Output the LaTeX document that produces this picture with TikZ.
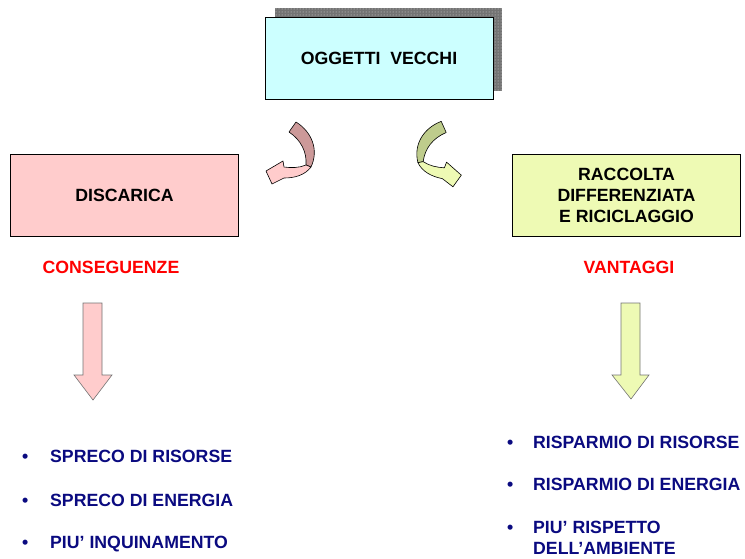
\documentclass[tikz,border=0pt]{standalone}
\usepackage{fontspec}
\setmainfont{Liberation Sans}
\usetikzlibrary{patterns}

\definecolor{celeste}{RGB}{204,255,255}
\definecolor{rosa}{RGB}{255,204,204}
\definecolor{rosascuro}{RGB}{204,153,153}
\definecolor{verdino}{RGB}{238,250,180}
\definecolor{verdescuro}{RGB}{190,204,140}
\definecolor{blu}{RGB}{10,10,128}

\begin{document}
\begin{tikzpicture}[x=1pt, y=-1pt,
  font=\fontsize{17.7}{21}\selectfont\bfseries,
  box/.style={draw, line width=0.8pt, align=center, minimum width=228pt, minimum height=82pt},
  titolo/.style={text=red},
  voce/.style={anchor=base west, inner sep=0pt, text=blu, align=left},
  freccia/.style={draw=black!55, line width=0.6pt},
  curva/.style={draw=black, line width=0.6pt, line join=round}]

  \useasboundingbox (0,0) rectangle (745,558);

  % ombra e riquadro in alto
  \fill[black!55] (275,8) rectangle (502,91);
  \fill[pattern=dots, pattern color=white!85!black] (275,8) rectangle (502,91);
  \node[box, fill=celeste] (vecchi) at (379,58.5) {OGGETTI~~VECCHI};

  \node[box, fill=rosa] (discarica) at (124.5,195.5) {DISCARICA};
  \node[box, fill=verdino] (raccolta) at (626.5,195.5) {RACCOLTA\\DIFFERENZIATA\\E RICICLAGGIO};

  \node[titolo] (conseguenze) at (111,267) {CONSEGUENZE};
  \node[titolo] (vantaggi) at (629,267) {VANTAGGI};

  % frecce curve
  \filldraw[curva, fill=rosascuro] (289,132) -- (296,122) .. controls (312,132) and (319,150) .. (311,167)
    -- (306,165) .. controls (307,152) and (301,140) .. cycle;
  \filldraw[curva, fill=rosa] (306,165) .. controls (299,168) and (291,168) .. (284,167) -- (283,161) -- (266,171)
    -- (272,184) -- (284,178) .. controls (295,178) and (305,175) .. (311,167) -- cycle;
  \begin{scope}[rotate around={-11:(444,128)}]
  \begin{scope}[xshift=736pt, xscale=-1]
    \filldraw[curva, fill=verdescuro] (289,132) -- (296,122) .. controls (312,132) and (319,150) .. (311,167)
      -- (306,165) .. controls (307,152) and (301,140) .. cycle;
    \filldraw[curva, fill=verdino] (306,165) .. controls (299,168) and (291,168) .. (284,167) -- (283,161) -- (266,171)
      -- (272,184) -- (284,178) .. controls (295,178) and (305,175) .. (311,167) -- cycle;
  \end{scope}
  \end{scope}

  % frecce verso il basso
  \filldraw[freccia, fill=rosa] (83,303) -- (102,303) -- (102,375) -- (112,375) -- (93,400) -- (74,375) -- (83,375) -- cycle;
  \filldraw[freccia, fill=verdino] (621,303) -- (640,303) -- (640,375) -- (649,375) -- (631,399) -- (612,375) -- (621,375) -- cycle;

  \node[voce] (spreco1) at (22,462) {\makebox[28pt][l]{•}SPRECO DI RISORSE};
  \node[voce] (spreco2) at (22,506) {\makebox[28pt][l]{•}SPRECO DI ENERGIA};
  \node[voce] (inquin) at (22,548) {\makebox[28pt][l]{•}PIU’ INQUINAMENTO};

  \node[voce] (risp1) at (507,448) {\makebox[26pt][l]{•}RISPARMIO DI RISORSE};
  \node[voce] (risp2) at (507,490) {\makebox[26pt][l]{•}RISPARMIO DI ENERGIA};
  \node[voce] (ambiente) at (507,554) {\makebox[26pt][l]{•}PIU’ RISPETTO\\\hspace*{26pt}DELL’AMBIENTE};
\end{tikzpicture}
\end{document}
